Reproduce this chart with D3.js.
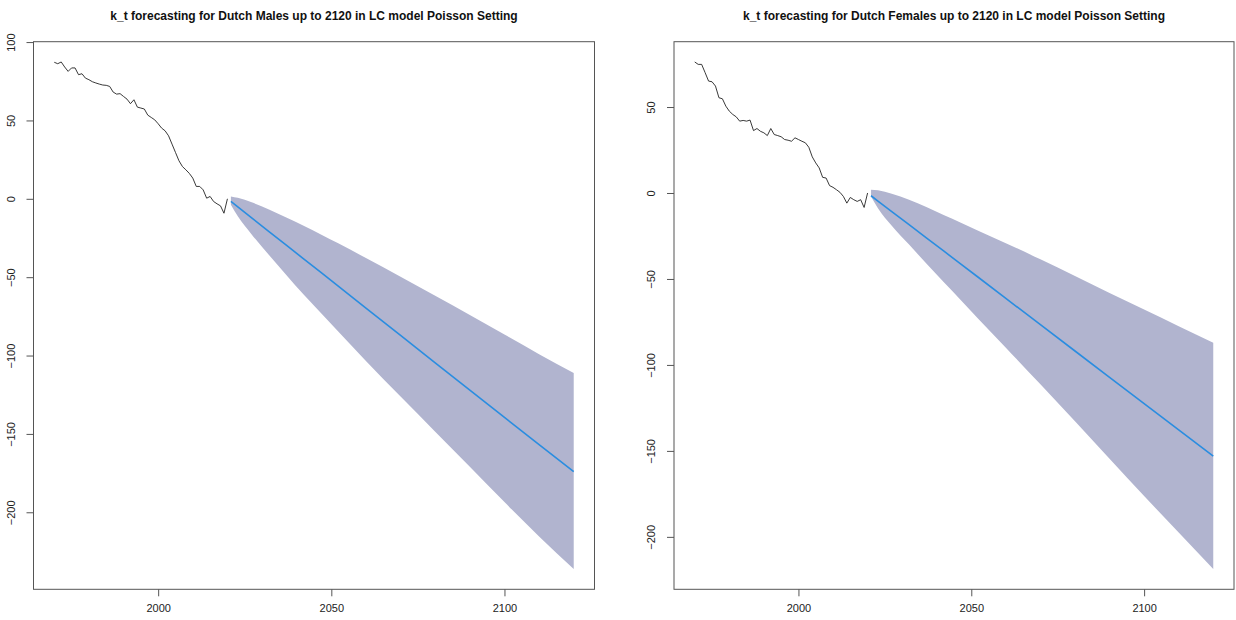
<!DOCTYPE html>
<html>
<head>
<meta charset="utf-8">
<script src="https://cdn.jsdelivr.net/npm/d3@7"></script>
<style>
  html, body { margin: 0; padding: 0; background: #fff; }
  svg { display: block; font-family: "Liberation Sans", Arial, sans-serif; }
</style>
</head>
<body>
<svg id="chart" width="1236" height="620"></svg>
<script>
// Observed k_t, 1970-2020
const histYears = d3.range(1970, 2021);
const maleHist = [87.1, 86.2, 87.3, 84.1, 81.3, 83.5, 83.5, 79.2, 79.8, 77.0,
  76.0, 74.7, 73.9, 73.2, 72.6, 72.4, 71.7, 68.1, 66.8, 67.1,
  65.3, 63.6, 60.7, 63.2, 58.5, 57.9, 57.3, 53.4, 51.9, 50.4,
  47.9, 45.1, 43.4, 40.2, 34.9, 29.6, 24.3, 20.6, 18.5, 16.2,
  13.2, 7.9, 7.9, 5.7, 0.4, 1.5, -1.7, -3.2, -4.5, -9.2, 0.0];
const femaleHist = [76.2, 74.8, 74.8, 70.0, 65.1, 64.7, 62.2, 55.4, 54.8, 50.5,
  47.6, 45.7, 44.3, 41.8, 42.2, 41.8, 42.4, 36.3, 37.5, 35.9,
  35.0, 33.4, 37.5, 34.0, 33.4, 32.7, 31.1, 30.7, 30.1, 32.1,
  31.1, 30.1, 29.2, 26.6, 21.0, 17.5, 14.6, 9.1, 8.7, 4.3,
  3.3, 1.9, 0.4, -2.0, -5.9, -2.6, -3.9, -4.9, -3.9, -8.4, 0.0];

// Forecast 2021-2120: central path and 95% band
const fcYears = [2021, 2023, 2027, 2032, 2037, 2042, 2047, 2052, 2060, 2070, 2080, 2090, 2100, 2110, 2120];
const maleMean  = [-1.7, -5.2, -12.2, -20.9, -29.6, -38.3, -47.0, -55.7, -69.7, -87.2, -104.6, -122.0, -139.5, -156.9, -174.0];
const maleUpper = [1.5, 0.6, -2.2, -6.8, -11.9, -17.2, -22.7, -28.4, -37.8, -49.7, -61.8, -74.1, -86.6, -99.1, -111.2];
const maleLower = [-3.8, -11.2, -22.7, -35.8, -48.6, -61.1, -72.9, -84.7, -103.5, -126.2, -148.6, -171.0, -193.5, -215.4, -236.2];
const femaleMean  = [-1.6, -4.7, -10.8, -18.4, -26.1, -33.7, -41.4, -49.0, -61.3, -76.6, -91.9, -107.2, -122.5, -137.8, -153.0];
const femaleUpper = [1.9, 1.6, -0.5, -3.9, -8.2, -12.8, -17.3, -22.0, -29.2, -38.6, -48.3, -58.1, -67.8, -77.5, -87.1];
const femaleLower = [-2.0, -8.8, -19.0, -30.0, -41.0, -51.8, -62.4, -73.2, -90.0, -111.3, -132.8, -154.5, -176.2, -197.5, -218.7];

const xTicks = [2000, 2050, 2100];
const yTicksMale = [100, 50, 0, -50, -100, -150, -200];
const yTicksFemale = [50, 0, -50, -100, -150, -200];

const titles = [
  "k_t forecasting for Dutch Males up to 2120 in LC model Poisson Setting",
  "k_t forecasting for Dutch Females up to 2120 in LC model Poisson Setting"
];

const svg = d3.select("#chart");

// R-style axis range: data extent padded by 4% on each side
function padded(lo, hi) {
  const p = (hi - lo) * 0.04;
  return [lo - p, hi + p];
}

function panel(opts) {
  const { left, right, top, bottom, title, hist, mean, upper, lower, yTicks } = opts;
  const g = svg.append("g");

  const allX = histYears.concat(fcYears);
  const allY = hist.concat(mean, upper, lower);
  const x = d3.scaleLinear().domain(padded(d3.min(allX), d3.max(allX))).range([left, right]);
  const y = d3.scaleLinear().domain(padded(d3.min(allY), d3.max(allY))).range([bottom, top]);

  const band = fcYears.map((yr, i) => ({ yr, lo: lower[i], hi: upper[i], m: mean[i] }));

  g.append("path")
    .datum(band)
    .attr("fill", "#b1b4cf")
    .attr("stroke", "none")
    .attr("d", d3.area().x(d => x(d.yr)).y0(d => y(d.lo)).y1(d => y(d.hi)).curve(d3.curveMonotoneX));

  g.append("path")
    .datum(band)
    .attr("fill", "none")
    .attr("stroke", "#2a8de0")
    .attr("stroke-width", 1.6)
    .attr("d", d3.line().x(d => x(d.yr)).y(d => y(d.m)));

  g.append("path")
    .datum(histYears.map((yr, i) => [yr, hist[i]]))
    .attr("fill", "none")
    .attr("stroke", "#222")
    .attr("stroke-width", 0.9)
    .attr("d", d3.line().x(d => x(d[0])).y(d => y(d[1])));

  // frame
  g.append("rect")
    .attr("x", left).attr("y", top)
    .attr("width", right - left).attr("height", bottom - top)
    .attr("fill", "none").attr("stroke", "#555").attr("stroke-width", 1);

  // x axis
  const xAxis = d3.axisBottom(x).tickValues(xTicks).tickSize(7).tickPadding(8).tickFormat(d3.format("d"));
  const xg = g.append("g").attr("transform", `translate(0,${bottom})`).call(xAxis);
  xg.select(".domain").remove();
  xg.selectAll("line").attr("stroke", "#555");
  xg.selectAll("text").attr("fill", "#222").style("font-size", "11px")
    .style("font-family", '"Liberation Sans", Arial, sans-serif');

  // y axis with labels rotated to read upward
  const yAxis = d3.axisLeft(y).tickValues(yTicks).tickSize(7).tickFormat(d3.format("d"));
  const yg = g.append("g").attr("transform", `translate(${left},0)`).call(yAxis);
  yg.select(".domain").remove();
  yg.selectAll("line").attr("stroke", "#555");
  yg.selectAll("text")
    .attr("x", null).attr("dy", null)
    .attr("text-anchor", "middle")
    .attr("transform", "translate(-19,0) rotate(-90)")
    .attr("fill", "#222").style("font-size", "11px")
    .style("font-family", '"Liberation Sans", Arial, sans-serif');

  g.append("text")
    .attr("x", (left + right) / 2).attr("y", 20)
    .attr("text-anchor", "middle")
    .attr("font-weight", "bold").attr("font-size", "12px")
    .attr("fill", "#111")
    .text(title);
}

panel({ left: 33.5, right: 594.5, top: 41.7, bottom: 589.3, title: titles[0],
  hist: maleHist, mean: maleMean, upper: maleUpper, lower: maleLower, yTicks: yTicksMale });
panel({ left: 674, right: 1234, top: 41.7, bottom: 589.3, title: titles[1],
  hist: femaleHist, mean: femaleMean, upper: femaleUpper, lower: femaleLower, yTicks: yTicksFemale });
</script>
</body>
</html>
